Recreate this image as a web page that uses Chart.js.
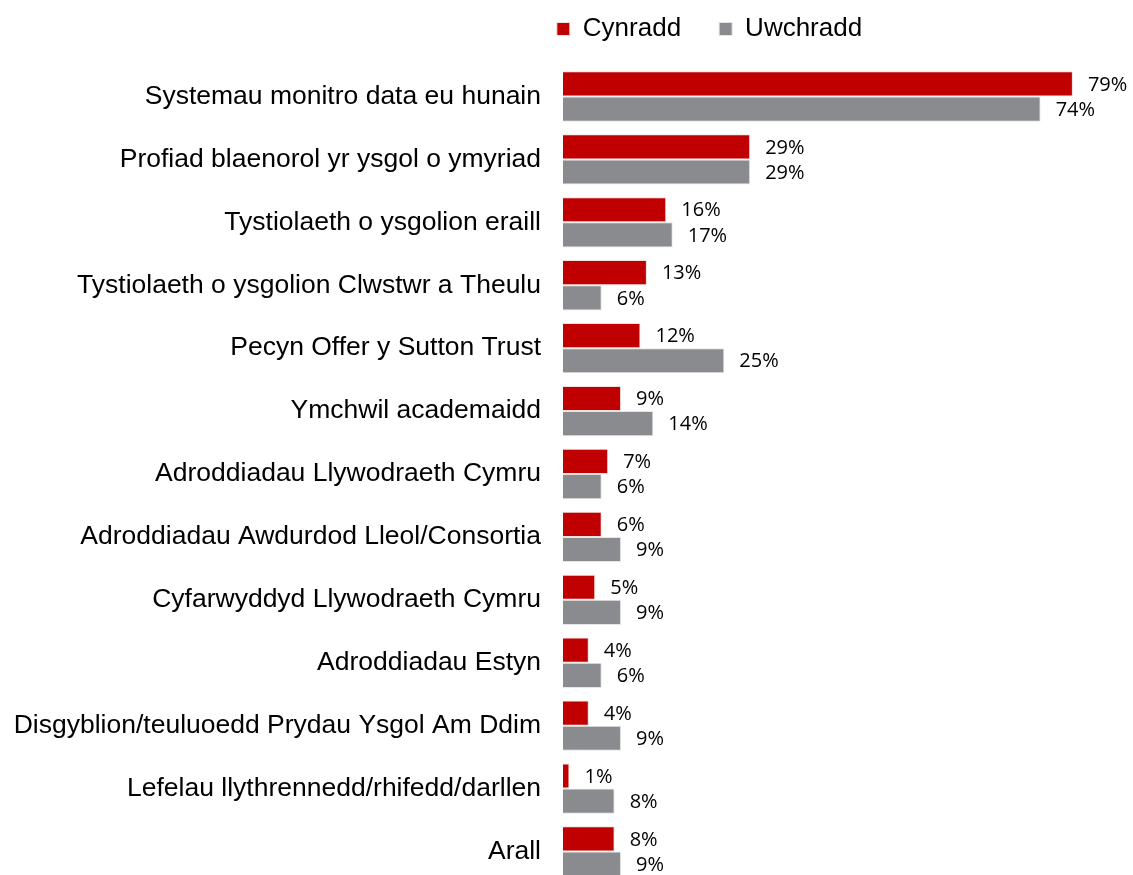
<!DOCTYPE html>
<html>
<head>
<meta charset="utf-8">
<script src="https://cdn.jsdelivr.net/npm/chart.js@4"></script>
<style>
  html, body { margin: 0; padding: 0; background: #fff; overflow: hidden; }
  #wrap { position: relative; width: 1133px; height: 883px; }
</style>
</head>
<body>
<div id="wrap"><canvas id="chart"></canvas></div>
<script>
// Ffynonellau tystiolaeth — cynradd vs uwchradd (%)
const categories = [
    "Systemau monitro data eu hunain",
    "Profiad blaenorol yr ysgol o ymyriad",
    "Tystiolaeth o ysgolion eraill",
    "Tystiolaeth o ysgolion Clwstwr a Theulu",
    "Pecyn Offer y Sutton Trust",
    "Ymchwil academaidd",
    "Adroddiadau Llywodraeth Cymru",
    "Adroddiadau Awdurdod Lleol/Consortia",
    "Cyfarwyddyd Llywodraeth Cymru",
    "Adroddiadau Estyn",
    "Disgyblion/teuluoedd Prydau Ysgol Am Ddim",
    "Lefelau llythrennedd/rhifedd/darllen",
    "Arall",
];
const cynradd = [79, 29, 16, 13, 12, 9, 7, 6, 5, 4, 4, 1, 8];
const uwchradd = [74, 29, 17, 6, 25, 14, 6, 9, 9, 6, 9, 8, 9];

// labeli gwerth ar ddiwedd pob bar
const valueLabels = {
    id: "valueLabels",
    afterDatasetsDraw(chart) {
        const { ctx } = chart;
        ctx.save();
        ctx.font = "20px 'Open Sans'";
        ctx.fillStyle = "#000";
        ctx.textBaseline = "middle";
        ctx.textAlign = "left";
        chart.data.datasets.forEach((ds, i) => {
            chart.getDatasetMeta(i).data.forEach((bar, j) => {
                ctx.fillText(ds.data[j] + "%", bar.x + 15, bar.y + 1);
            });
        });
        ctx.restore();
    },
};

// symud y chwedl i'r dde, fel yn y gwreiddiol
const legendShift = {
    id: "legendShift",
    afterLayout(chart) {
        const lg = chart.legend;
        if (!lg) return;
        lg.left = 288;
        const h = lg.bottom - lg.top;
        lg.top = -22;
        lg.bottom = lg.top + h;
    },
};

new Chart(document.getElementById("chart"), {
    type: "bar",
    data: {
        labels: categories,
        datasets: [
            { label: "Cynradd", data: cynradd, backgroundColor: "#c00000", borderColor: "#f0e0e0", borderWidth: 1 },
            { label: "Uwchradd", data: uwchradd, backgroundColor: "#898b8e", borderColor: "#e6e6e6", borderWidth: 1 },
        ],
    },
    options: {
        indexAxis: "y",
        responsive: true,
        maintainAspectRatio: false,
        animation: false,
        layout: { padding: { left: 0, right: 2, top: -9, bottom: 0 } },
        datasets: { bar: { barPercentage: 1, categoryPercentage: 0.8 } },
        scales: {
            x: {
                min: 0,
                max: 88,
                display: false,
            },
            y: {
                grid: { display: false },
                border: { display: false },
                ticks: {
                    color: "#000",
                    padding: 14,
                    autoSkip: false,
                    font: { family: "'Liberation Sans', Arial", size: 26.5 },
                },
                afterFit(scale) {
                    scale.width = 563;
                    scale.paddingTop = 0;
                    scale.paddingBottom = 0;
                },
            },
        },
        plugins: {
            legend: {
                position: "top",
                labels: {
                    color: "#000",
                    boxWidth: 13,
                    boxHeight: 13,
                    padding: 38,
                    font: { family: "'Liberation Sans', Arial", size: 26 },
                },
            },
            tooltip: { enabled: false },
        },
    },
    plugins: [valueLabels, legendShift],
});
</script>
</body>
</html>
